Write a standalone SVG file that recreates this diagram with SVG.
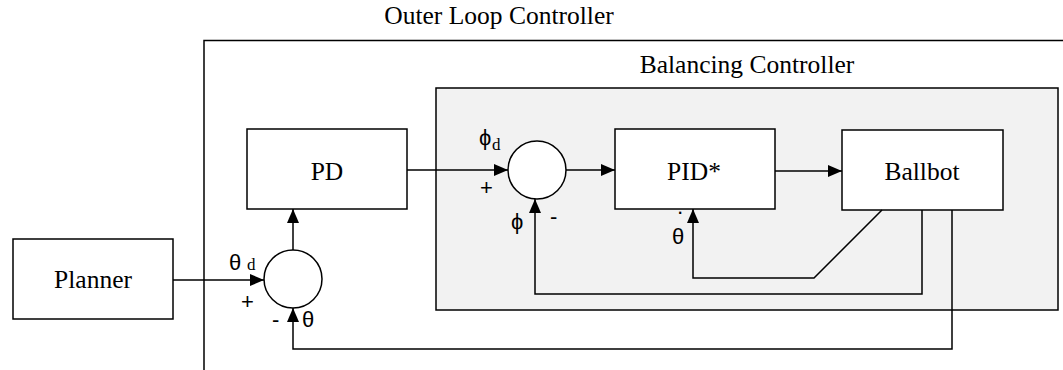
<svg xmlns="http://www.w3.org/2000/svg" width="1063" height="370" viewBox="0 0 1063 370">
<style>
.box{fill:#fff;stroke:#000;stroke-width:1.5}
.sum{fill:#fff;stroke:#000;stroke-width:1.5}
.ln{fill:none;stroke:#000;stroke-width:1.5}
.lbl{font-family:"Liberation Serif",serif;font-size:25.5px;text-anchor:middle;fill:#000}
.sym{font-family:"Liberation Sans",sans-serif;font-size:22px;fill:#000}
.sub{font-family:"Liberation Serif",serif;font-size:17px;fill:#000}
</style>
<defs>
<marker id="ah" markerWidth="14" markerHeight="12" refX="14" refY="6" orient="auto" markerUnits="userSpaceOnUse">
<path d="M0,0 L14,6 L0,12 Z" fill="#000"/>
</marker>
</defs>
<rect width="1063" height="370" fill="#fff"/>
<g id="outer-loop">
<path class="ln" d="M204,370 V40.5 H1063"/>
<text class="lbl" x="499" y="24">Outer Loop Controller</text>
</g>
<g id="balancing">
<rect x="436" y="88" width="622" height="222" fill="#f2f2f2" stroke="#000" stroke-width="1.5"/>
<text class="lbl" x="747" y="73">Balancing Controller</text>
</g>
<g id="planner">
<rect class="box" x="13" y="239" width="160" height="80"/>
<text class="lbl" x="93" y="288">Planner</text>
</g>
<g id="pd">
<rect class="box" x="247" y="129" width="160" height="80"/>
<text class="lbl" x="327" y="180">PD</text>
</g>
<g id="pid">
<rect class="box" x="615" y="129" width="160" height="80"/>
<text class="lbl" x="694" y="180">PID*</text>
</g>
<g id="ballbot">
<rect class="box" x="842" y="130" width="161" height="80"/>
<text class="lbl" x="922" y="180">Ballbot</text>
</g>
<g id="sum-outer">
<circle class="sum" cx="293" cy="279" r="29"/>
</g>
<g id="sum-inner">
<circle class="sum" cx="537" cy="170" r="29"/>
</g>
<g id="connectors">
<path class="ln" d="M173,280 H264" marker-end="url(#ah)"/>
<path class="ln" d="M293,250 V209" marker-end="url(#ah)"/>
<path class="ln" d="M407,170 H508" marker-end="url(#ah)"/>
<path class="ln" d="M566,170 H615" marker-end="url(#ah)"/>
<path class="ln" d="M775,171 H842" marker-end="url(#ah)"/>
<path class="ln" d="M882,210 L814,278 H693 V209" marker-end="url(#ah)"/>
<path class="ln" d="M922,210 V294 H535 V199" marker-end="url(#ah)"/>
<path class="ln" d="M952,210 V349 H293 V308" marker-end="url(#ah)"/>
</g>
<g id="labels">
<text class="sym" x="229" y="270" font-size="24">θ</text>
<text class="sub" x="247" y="270">d</text>
<text class="sym" x="241" y="309">+</text>
<text class="sym" x="272" y="327">-</text>
<text class="sym" x="302" y="327" font-size="19">θ</text>
<text class="sym" x="479" y="145" font-size="20">ϕ</text>
<text class="sub" x="492" y="150">d</text>
<text class="sym" x="480" y="195" font-size="19">+</text>
<text class="sym" x="511" y="229" font-size="20">ϕ</text>
<text class="sym" x="550" y="224" font-size="19">-</text>
<text class="sym" x="672" y="244" font-size="19">θ</text>
<text class="sym" x="676.5" y="219" font-size="12">·</text>
</g>
</svg>
